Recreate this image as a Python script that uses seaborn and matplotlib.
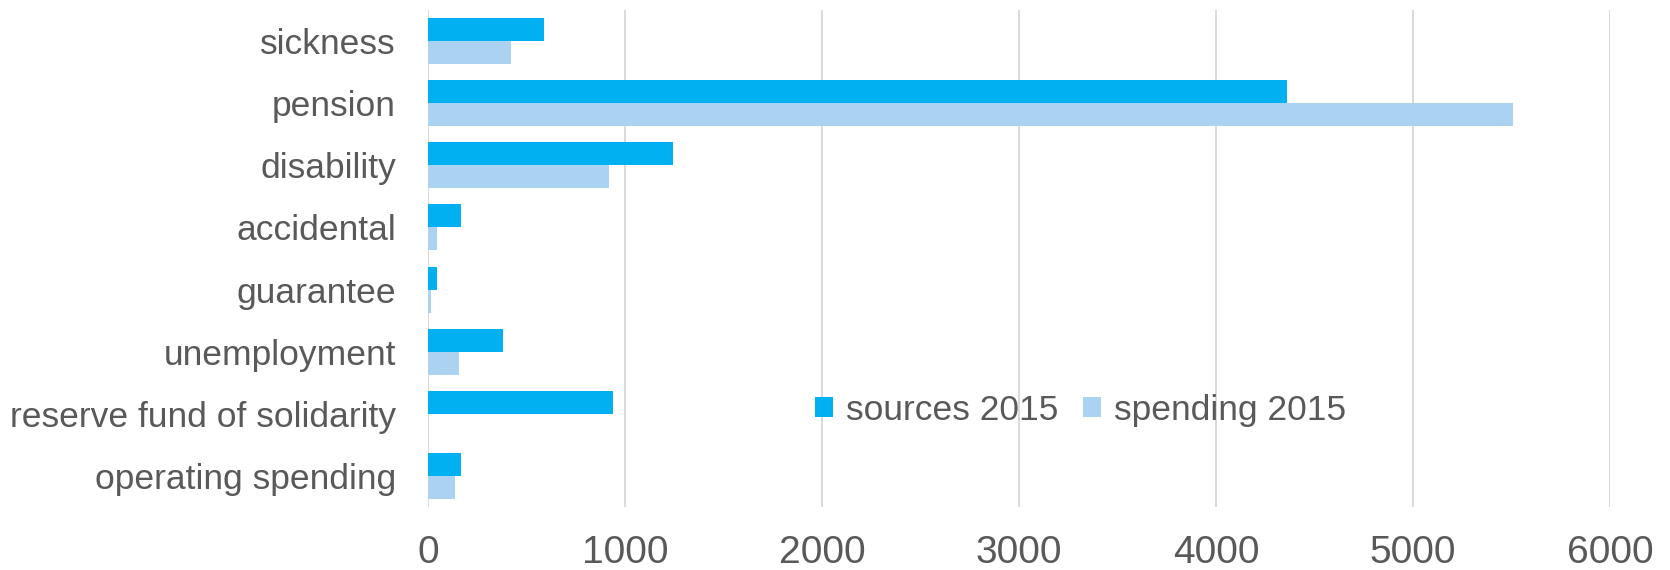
import matplotlib
matplotlib.use("Agg")
import matplotlib.pyplot as plt
import seaborn as sns
import pandas as pd

categories = ["sickness", "pension", "disability", "accidental", "guarantee",
              "unemployment", "reserve fund of solidarity", "operating spending"]
sources_2015 = [590, 4360, 1245, 167, 46, 381, 939, 167]
spending_2015 = [421, 5505, 919, 46, 15, 157, 0, 137]
series_names = ["sources 2015", "spending 2015"]
x_ticks = [0, 1000, 2000, 3000, 4000, 5000, 6000]

df = pd.DataFrame({
    "category": categories * 2,
    "value": sources_2015 + spending_2015,
    "series": [series_names[0]] * len(categories) + [series_names[1]] * len(categories),
})

sns.set_theme(style="white")
plt.rcParams["font.family"] = ["Liberation Sans", "DejaVu Sans"]
text_color = "#595959"
fs = 25.5

fig = plt.figure(figsize=(16.7, 5.7), dpi=100)
ax = fig.add_axes([0.2563, 0.1105, 0.7078, 0.872])

palette = {series_names[0]: "#00B0F0", series_names[1]: "#ABD3F1"}
sns.barplot(data=df, y="category", x="value", hue="series", orient="h",
            palette=palette, width=0.74, saturation=1, linewidth=0,
            ax=ax, order=categories)

ax.set_xlim(0, 6000)
ax.set_ylim(len(categories) - 0.5, -0.5)
ax.set_xticks(x_ticks)
ax.set_xticklabels([str(t) for t in x_ticks])
ax.set_xlabel("")
ax.set_ylabel("")
ax.grid(axis="x", color="#d9d9d9", linewidth=1.4)
ax.grid(axis="y", visible=False)
ax.set_axisbelow(True)
for s in ax.spines.values():
    s.set_visible(False)
ax.tick_params(axis="x", length=0, pad=20, labelsize=28, labelcolor=text_color)
ax.tick_params(axis="y", length=0, pad=23, labelsize=fs, labelcolor=text_color)

handles, labels = ax.get_legend_handles_labels()
ax.legend(handles, labels, loc="center", bbox_to_anchor=(0.552, 0.195),
          ncol=2, frameon=False, fontsize=fs, labelcolor=text_color,
          handlelength=0.5, handleheight=0.5, handletextpad=0.37,
          columnspacing=0.7)

fig.savefig("out.png", dpi=100)
